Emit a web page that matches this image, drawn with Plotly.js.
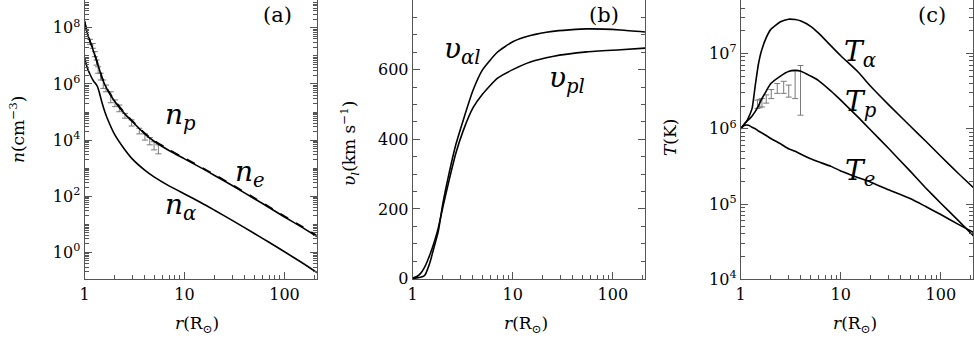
<!DOCTYPE html>
<html>
<head>
<meta charset="utf-8">
<script src="https://cdn.plot.ly/plotly-3.0.1.min.js"></script>
<style>
  html, body { margin: 0; padding: 0; background: #fff; }
  #chart { width: 974px; height: 338px; }
</style>
</head>
<body>
<div id="chart"></div>
<script>
// ---- panel (a): number densities, log10(n / cm^-3) vs r (R_sun) ----
const rDens = [1, 1.05, 1.1, 1.15, 1.2, 1.3, 1.4, 1.5, 1.7, 2, 2.5, 3, 4, 5, 7, 10, 15, 20, 30, 50, 70, 100, 150, 215];
const npLog = [8.22, 7.9, 7.65, 7.45, 7.28, 6.9, 6.55, 6.2, 5.78, 5.38, 4.95, 4.66, 4.22, 3.95, 3.63, 3.33, 2.99, 2.74, 2.38, 1.91, 1.6, 1.26, 0.89, 0.55];
const neLog = [8.25, 7.93, 7.68, 7.48, 7.31, 6.93, 6.58, 6.23, 5.81, 5.41, 4.98, 4.69, 4.25, 3.98, 3.66, 3.36, 3.02, 2.77, 2.41, 1.94, 1.63, 1.29, 0.92, 0.58];
const rAlpha = [1, 1.05, 1.1, 1.15, 1.2, 1.25, 1.3, 1.35, 1.4, 1.5, 1.6, 1.7, 2, 2.5, 3, 4, 5, 7, 10, 15, 20, 30, 50, 70, 100, 150, 215];
const naLog = [6.93, 6.65, 6.45, 6.3, 6.17, 6.07, 6.0, 5.9, 5.72, 5.32, 5.0, 4.75, 4.2, 3.68, 3.33, 2.93, 2.68, 2.37, 2.08, 1.75, 1.5, 1.14, 0.67, 0.36, 0.02, -0.37, -0.74];
// observed densities (error bar ends, log10)
const obsDensR = [1.135, 1.21, 1.27, 1.32, 1.37, 1.45, 1.54, 1.64, 1.83, 2.02, 2.23, 2.54, 2.96, 3.53, 4.02, 4.49, 4.96, 5.48];
const obsDensLo = [7.41, 7.27, 6.97, 6.67, 6.38, 6.14, 5.84, 5.72, 5.33, 5.19, 5.01, 4.78, 4.50, 4.22, 4.00, 3.83, 3.65, 3.51];
const obsDensHi = [7.59, 7.44, 7.15, 6.85, 6.61, 6.38, 6.14, 5.96, 5.72, 5.43, 5.25, 4.95, 4.72, 4.42, 4.22, 4.09, 3.94, 3.83];

// ---- panel (b): outflow speeds (km/s) ----
const rVp = [1, 1.1, 1.2, 1.3, 1.4, 1.5, 1.6, 1.8, 2, 2.3, 2.7, 3.2, 4, 5, 7, 10, 15, 25, 55, 120, 215];
const vpl = [2, 6, 15, 30, 50, 72, 95, 145, 205, 280, 360, 425, 490, 530, 575, 600, 622, 638, 651, 657, 662];
const rVa = [1, 1.1, 1.2, 1.3, 1.35, 1.4, 1.5, 1.6, 1.8, 2, 2.3, 2.7, 3.2, 4, 5, 7, 10, 15, 25, 55, 120, 215];
const val = [1, 2, 4, 8, 14, 25, 50, 80, 135, 215, 300, 385, 455, 540, 600, 650, 680, 698, 710, 717, 714, 708];

// ---- panel (c): temperatures, log10(T / K) ----
const rTemp = [1, 1.05, 1.1, 1.15, 1.2, 1.3, 1.4, 1.5, 1.6, 1.8, 2, 2.5, 3, 3.5, 4, 5, 6, 8, 10, 15, 20, 30, 50, 70, 100, 150, 215];
const taLog = [6.0, 6.03, 6.07, 6.1, 6.15, 6.27, 6.58, 6.85, 7.02, 7.21, 7.32, 7.42, 7.455, 7.45, 7.43, 7.36, 7.27, 7.1, 6.97, 6.75, 6.56, 6.32, 6.03, 5.84, 5.635, 5.405, 5.21];
const tpLog = [6.0, 6.04, 6.07, 6.1, 6.12, 6.17, 6.23, 6.3, 6.38, 6.5, 6.6, 6.7, 6.76, 6.775, 6.765, 6.7, 6.64, 6.5, 6.38, 6.15, 5.98, 5.74, 5.43, 5.22, 5.01, 4.78, 4.57];
const teLog = [6.0, 6.03, 6.045, 6.05, 6.045, 6.02, 6.0, 5.97, 5.95, 5.91, 5.87, 5.8, 5.735, 5.7, 5.66, 5.6, 5.56, 5.5, 5.44, 5.35, 5.29, 5.19, 5.07, 4.97, 4.86, 4.73, 4.62];
// observed proton temperatures (error bar ends, log10)
const obsTempR = [1.47, 1.55, 1.63, 1.8, 2.02, 2.32, 2.69, 3.02, 3.5, 3.96];
const obsTempLo = [6.27, 6.28, 6.29, 6.34, 6.40, 6.47, 6.47, 6.42, 6.40, 6.18];
const obsTempHi = [6.38, 6.39, 6.40, 6.45, 6.52, 6.60, 6.63, 6.58, 6.77, 6.84];

const W = 974, H = 338;
const serif = 'DejaVu Serif, serif';
const tickFont = { family: serif, size: 16, color: '#000' };
const pow10 = a => a.map(v => Math.pow(10, v));

// error bars given by their two ends -> centre + asymmetric arms
function obsTrace(r, lo, hi, xa, ya) {
  const c = lo.map((l, i) => Math.pow(10, (l + hi[i]) / 2));
  return {
    x: r, y: c, xaxis: xa, yaxis: ya,
    mode: 'markers', type: 'scatter',
    marker: { size: 1, color: 'rgba(0,0,0,0)' },
    error_y: {
      type: 'data', symmetric: false,
      array: hi.map((h, i) => Math.pow(10, h) - c[i]),
      arrayminus: lo.map((l, i) => c[i] - Math.pow(10, l)),
      color: '#7a7a7a', thickness: 1, width: 3
    },
    showlegend: false, hoverinfo: 'skip'
  };
}

function line(x, y, xa, ya, dash) {
  return {
    x: x, y: y, xaxis: xa, yaxis: ya, type: 'scatter', mode: 'lines',
    line: { color: '#000', width: 1.6, dash: dash || 'solid', shape: 'spline', smoothing: 0.5 },
    showlegend: false, hoverinfo: 'skip'
  };
}

const traces = [
  obsTrace(obsDensR, obsDensLo, obsDensHi, 'x', 'y'),
  line(rDens, pow10(npLog), 'x', 'y'),
  line(rDens, pow10(neLog), 'x', 'y', 'dash'),
  line(rAlpha, pow10(naLog), 'x', 'y'),
  line(rVp, vpl, 'x2', 'y2'),
  line(rVa, val, 'x2', 'y2'),
  obsTrace(obsTempR, obsTempLo, obsTempHi, 'x3', 'y3'),
  line(rTemp, pow10(taLog), 'x3', 'y3'),
  line(rTemp, pow10(tpLog), 'x3', 'y3'),
  line(rTemp, pow10(teLog), 'x3', 'y3')
];

// plot boxes in pixels
const boxes = [[84.5, 316.7], [412.7, 645], [740.7, 973]];
const yBottom = 279.3;
const dom = b => [b[0] / W, b[1] / W];

function xAxis(b, anchor) {
  return {
    type: 'log', domain: dom(b), anchor: anchor, range: [0, 2.322],
    tickmode: 'array', tickvals: [1, 10, 100], ticktext: ['1', '10', '100'],
    ticks: 'inside', ticklen: 7, tickcolor: '#555', tickwidth: 1,
    minor: { ticks: 'inside', ticklen: 4, dtick: 'D1', tickcolor: '#555' },
    showline: true, linecolor: '#555', linewidth: 1, mirror: false,
    showgrid: false, zeroline: false, tickfont: tickFont, fixedrange: true
  };
}

function yBase(anchor) {
  return {
    domain: [1 - yBottom / H, 1], anchor: anchor,
    ticks: 'inside', ticklen: 7, tickcolor: '#555', tickwidth: 1,
    showline: true, linecolor: '#555', linewidth: 1, mirror: 'allticks',
    showgrid: false, zeroline: false, tickfont: tickFont, fixedrange: true
  };
}

const pw = (e) => '10<sup>' + e + '</sup>';

const layout = {
  width: W, height: H,
  margin: { l: 0, r: 0, t: 0, b: 0 },
  paper_bgcolor: '#fff', plot_bgcolor: '#fff',
  showlegend: false,
  font: { family: serif, color: '#000' },
  xaxis: xAxis(boxes[0], 'y'),
  xaxis2: xAxis(boxes[1], 'y2'),
  xaxis3: xAxis(boxes[2], 'y3'),
  yaxis: Object.assign(yBase('x'), {
    type: 'log', range: [-0.96, 8.99],
    tickmode: 'array', tickvals: [1, 1e2, 1e4, 1e6, 1e8],
    ticktext: [pw(0), pw(2), pw(4), pw(6), pw(8)],
    minor: { ticks: 'inside', ticklen: 4, dtick: 'D1', tickcolor: '#555' }
  }),
  yaxis2: Object.assign(yBase('x2'), {
    range: [-2, 800], tickmode: 'linear', tick0: 0, dtick: 200,
    minor: { ticks: 'inside', ticklen: 4, dtick: 50, tickcolor: '#555' }
  }),
  yaxis3: Object.assign(yBase('x3'), {
    type: 'log', range: [4, 7.71],
    tickmode: 'array', tickvals: [1e4, 1e5, 1e6, 1e7],
    ticktext: [pw(4), pw(5), pw(6), pw(7)],
    minor: { ticks: 'inside', ticklen: 4, dtick: 'D1', tickcolor: '#555' }
  }),
  annotations: []
};

const ann = layout.annotations;
const big = { family: serif, size: 28, color: '#000' };

// curve labels (data coordinates; log axes take log10 values)
function lab(text, x, y, xa, ya) {
  ann.push({ text: text, x: x, y: y, xref: xa, yref: ya, xanchor: 'left', yanchor: 'middle',
    showarrow: false, font: big });
}
lab('<i>n</i><sub><i>p</i></sub>', 0.785, 4.85, 'x', 'y');
lab('<i>n</i><sub><i>e</i></sub>', 1.485, 2.82, 'x', 'y');
lab('<i>n</i><sub><i>α</i></sub>', 0.785, 1.65, 'x', 'y');
lab('<i>υ</i><sub><i>αl</i></sub>', 0.293, 655, 'x2', 'y2');
lab('<i>υ</i><sub><i>pl</i></sub>', 1.343, 572, 'x2', 'y2');
lab('<i>T</i><sub><i>α</i></sub>', 1.013, 7.0, 'x3', 'y3');
lab('<i>T</i><sub><i>p</i></sub>', 1.023, 6.33, 'x3', 'y3');
lab('<i>T</i><sub><i>e</i></sub>', 1.023, 5.42, 'x3', 'y3');

// panel tags, axis titles (paper coordinates from pixels)
function pix(text, px, py, size, angle) {
  ann.push({ text: text, x: px / W, y: 1 - py / H, xref: 'paper', yref: 'paper',
    xanchor: 'center', yanchor: 'middle', showarrow: false, textangle: angle || 0,
    font: { family: serif, size: size, color: '#000' } });
}
pix('(a)', 277, 15, 21);
pix('(b)', 604, 15, 21);
pix('(c)', 932, 15, 21);
pix('<i>n</i>(cm<sup>−3</sup>)', 17, 130, 17, -90);
pix('<i>υ</i><sub><i>l</i></sub>(km s<sup>−1</sup>)', 349, 143, 17, -90);
pix('<i>T</i>(K)', 670, 138, 17, -90);
pix('<i>r</i>(R<sub>⊙</sub>)', 197, 324, 17);
pix('<i>r</i>(R<sub>⊙</sub>)', 526, 324, 17);
pix('<i>r</i>(R<sub>⊙</sub>)', 855, 324, 17);

Plotly.newPlot('chart', traces, layout, { staticPlot: true, displayModeBar: false });
</script>
</body>
</html>
